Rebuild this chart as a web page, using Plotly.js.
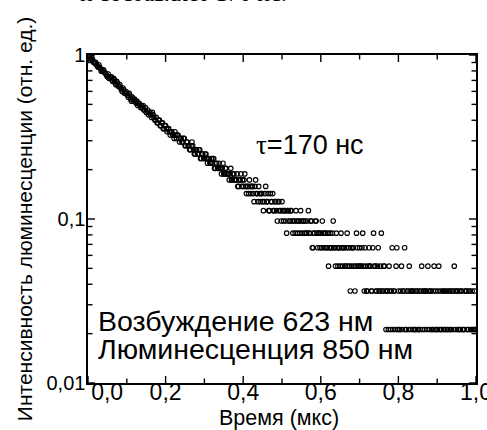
<!DOCTYPE html>
<html><head><meta charset="utf-8">
<script src="https://cdn.plot.ly/plotly-3.0.1.min.js"></script>
<style>html,body{margin:0;padding:0;background:#fff}</style>
</head><body><div id="chart" style="width:487px;height:430px"></div>
<script>
// Time axis of the decay record (мкс): first channel and channel width
const timeStart = 0;
const timeStep = 0.002;
// Normalised luminescence intensity, one value per channel
const intensity = [
.9940,.9940,.9788,.9484,.9484,.9636,.9332,.9028,.9028,.8876,
.9028,.8724,.8572,.8420,.8724,.8420,.8268,.7964,.8116,.7964,
.8116,.7812,.7812,.7660,.7508,.7356,.7660,.7204,.7204,.7356,
.7356,.7052,.6900,.7204,.7052,.6748,.6596,.6900,.6748,.6444,
.6444,.6596,.6292,.6140,.5988,.6292,.6140,.5836,.5836,.5988,
.5836,.5684,.5532,.5836,.5684,.5380,.5228,.5532,.5380,.5228,
.5380,.5228,.5076,.5228,.4924,.5076,.5076,.4924,.4772,.4924,
.4772,.4924,.4620,.4620,.4772,.4468,.4468,.4620,.4316,.4468,
.4468,.4316,.4164,.4468,.4316,.4164,.4012,.4012,.4164,.3860,
.3860,.4012,.4012,.3708,.3708,.3860,.3860,.3556,.3556,.3708,
.3708,.3556,.3404,.3556,.3556,.3404,.3252,.3404,.3404,.3252,
.3252,.3100,.3404,.3252,.3100,.3252,.3252,.3100,.2948,.3100,
.3100,.2948,.2948,.3100,.3100,.2796,.2796,.2948,.2948,.2796,
.2796,.2644,.2644,.2796,.2948,.2796,.2644,.2492,.2492,.2644,
.2644,.2492,.2492,.2644,.2644,.2340,.2340,.2492,.2492,.2340,
.2340,.2492,.2492,.2340,.2188,.2340,.2340,.2188,.2188,.2340,
.2188,.2340,.2340,.2036,.2036,.2188,.2188,.2036,.2036,.2188,
.2036,.2036,.1884,.2036,.2188,.1884,.1884,.2036,.2036,.1884,
.1884,.1884,.1732,.1884,.2036,.1732,.1732,.1884,.1884,.1732,
.1732,.1732,.1884,.1580,.1580,.1732,.1732,.1884,.1580,.1732,
.1580,.1732,.1884,.1580,.1428,.1580,.1580,.1428,.1732,.1580,
.1428,.1580,.1580,.1428,.1276,.1580,.1732,.1428,.1428,.1276,
.1580,.1428,.1276,.1428,.1428,.1276,.1124,.1276,.1428,.1580,
.1276,.1276,.1428,.1124,.1124,.1428,.1276,.1276,.1428,.1124,
.1124,.1276,.1276,.1124,.0972,.1276,.1276,.1124,.1124,.0972,
.1276,.1124,.0972,.1124,.1124,.0972,.0820,.1124,.1124,.0972,
.0972,.1124,.1124,.0972,.0820,.0972,.0972,.0820,.1124,.0972,
.0820,.0972,.0972,.0820,.1124,.0972,.0820,.0972,.0972,.0820,
.0972,.0820,.0820,.0972,.1124,.0820,.0820,.0972,.0972,.0668,
.0668,.0820,.0820,.0972,.0972,.0820,.0668,.0820,.0820,.0668,
.0820,.0668,.0972,.0820,.0668,.0820,.0820,.0668,.0668,.0820,
.0516,.0668,.0820,.0668,.0668,.0820,.0972,.0668,.0668,.0516,
.0820,.0668,.0516,.0668,.0668,.0516,.0820,.0668,.0516,.0668,
.0668,.0516,.0516,.0668,.0820,.0516,.0668,.0516,.0364,.0668,
.0516,.0668,.0668,.0516,.0364,.0516,.0820,.0668,.0516,.0516,
.0668,.0516,.0516,.0668,.0820,.0516,.0364,.0668,.0516,.0364,
.0364,.0516,.0668,.0516,.0516,.0364,.0364,.0668,.0820,.0516,
.0516,.0364,.0364,.0516,.0668,.0364,.0364,.0516,.0820,.0364,
.0364,.0516,.0516,.0364,.0212,.0364,.0364,.0212,.0516,.0364,
.0212,.0364,.0668,.0212,.0364,.0364,.0212,.0516,.0668,.0212,
.0364,.0212,.0212,.0364,.0516,.0212,.0364,.0364,.0668,.0212,
.0212,.0364,.0364,.0212,.0516,.0364,.0212,.0364,.0364,.0212,
.0364,.0212,.0212,.0364,.0364,.0212,.0212,.0364,.0212,.0364,
.0516,.0212,.0364,.0364,.0212,.0364,.0364,.0212,.0516,.0364,
.0212,.0364,.0364,.0212,.0212,.0364,.0516,.0212,.0364,.0212,
.0212,.0364,.0516,.0212,.0364,.0212,.0212,.0364,.0364,.0212,
.0212,.0364,.0364,.0212,.0212,.0364,.0364,.0212,.0212,.0364,
.0364,.0212,.0516,.0364,.0212,.0364,.0364,.0212,.0212,.0364,
.0212,.0364,.0364,.0212,.0212,.0212,.0364,.0364,.0364,.0212,
.0212,.0364,.0364,.0212,.0212,.0364,.0212,.0212,.0364,.0212,
.0212
];
// Axis ticks and labels
const xRange = [0, 1.0];
const xTickValues = [0, 0.2, 0.4, 0.6, 0.8, 1.0];
const xTickLabels = ['\u00a0\u00a0\u00a0\u00a0\u00a0\u00a00,0', '0,2', '0,4', '0,6', '0,8', '1,0'];
const xMinorTicks = [0.1, 0.3, 0.5, 0.7, 0.9];
const yLogRange = [-2, 0];
const yTickValues = [0.01, 0.1, 1];
const yTickLabels = ['0,01', '0,1', '1'];
const yMinorTicks = [0.02,0.03,0.04,0.05,0.06,0.07,0.08,0.09,0.2,0.3,0.4,0.5,0.6,0.7,0.8,0.9];
// Texts
const xTitle = 'Время (мкс)';
const yTitle = 'Интенсивность люминесценции (отн. ед.)';
const lifetimeLabel = '<span style="font-family:\'Liberation Serif\'">τ</span>=170 нс';
const excitationLabel = 'Возбуждение 623 нм';
const emissionLabel = 'Люминесценция 850 нм';
const captionFragment = 'и составляет 170 нс.';

const FONT = 'Liberation Sans';
const MAJOR_LEN = 7, MINOR_LEN = 4.5;
const tickLine = {color: '#000', width: 1.4};

// inward tick marks on all four sides of the frame, placed at the tick values
const tickShapes = [];
function xTick(v, len) {
  tickShapes.push({type: 'line', xref: 'x', yref: 'paper', ysizemode: 'pixel', yanchor: 0,
    x0: v, x1: v, y0: 0, y1: len, line: tickLine});
  tickShapes.push({type: 'line', xref: 'x', yref: 'paper', ysizemode: 'pixel', yanchor: 1,
    x0: v, x1: v, y0: 0, y1: -len, line: tickLine});
}
function yTick(v, len) {
  const frac = (Math.log10(v) - yLogRange[0]) / (yLogRange[1] - yLogRange[0]);
  tickShapes.push({type: 'line', xref: 'paper', yref: 'paper', xsizemode: 'pixel', xanchor: 0,
    x0: 0, x1: len, y0: frac, y1: frac, line: tickLine});
  tickShapes.push({type: 'line', xref: 'paper', yref: 'paper', xsizemode: 'pixel', xanchor: 1,
    x0: 0, x1: -len, y0: frac, y1: frac, line: tickLine});
}
xTickValues.forEach(v => xTick(v, MAJOR_LEN));
xMinorTicks.forEach(v => xTick(v, MINOR_LEN));
yTickValues.forEach(v => yTick(v, MAJOR_LEN));
yMinorTicks.forEach(v => yTick(v, MINOR_LEN));

const axisCommon = {
  showline: true, linecolor: '#000', linewidth: 1.6, mirror: true,
  ticks: '', showgrid: false, zeroline: false, tickmode: 'array', automargin: false,
  ticklabeloverflow: 'allow'
};

const dataTrace = {
  type: 'scatter', mode: 'markers',
  x0: timeStart, dx: timeStep, y: intensity,
  marker: {symbol: 'circle-open', size: 4.5, color: '#000', line: {width: 1.15, color: '#000'}},
  hoverinfo: 'skip', showlegend: false
};

const layout = {
  width: 487, height: 430,
  margin: {l: 88, r: 11, t: 55, b: 47},
  paper_bgcolor: '#fff', plot_bgcolor: '#fff',
  separators: ', ',
  font: {family: FONT, color: '#000'},
  xaxis: Object.assign({}, axisCommon, {
    range: xRange, tickvals: xTickValues, ticktext: xTickLabels,
    tickfont: {family: FONT, size: 23, color: '#000'},
    ticklabelstandoff: -12
  }),
  yaxis: Object.assign({}, axisCommon, {
    type: 'log', range: yLogRange, tickvals: yTickValues, ticktext: yTickLabels,
    tickfont: {family: FONT, size: 20, color: '#000'},
    ticklabelstandoff: -3,
    title: {text: yTitle, font: {family: FONT, size: 21, color: '#000'}, standoff: 8}
  }),
  shapes: tickShapes,
  annotations: [
    {xref: 'paper', yref: 'paper', x: 0.491, y: -0.108, xanchor: 'center', yanchor: 'middle',
     text: xTitle, showarrow: false, font: {family: FONT, size: 21.5, color: '#000'}},
    {xref: 'paper', yref: 'paper', x: 0.572, y: 0.726, xanchor: 'center', yanchor: 'middle',
     text: lifetimeLabel, showarrow: false, font: {family: FONT, size: 27, color: '#000'}},
    {xref: 'paper', yref: 'paper', x: 0.02, y: 0.189, xanchor: 'left', yanchor: 'middle',
     text: excitationLabel, showarrow: false, font: {family: FONT, size: 28.5, color: '#000'}},
    {xref: 'paper', yref: 'paper', x: 0.02, y: 0.104, xanchor: 'left', yanchor: 'middle',
     text: emissionLabel, showarrow: false, font: {family: FONT, size: 28.5, color: '#000'}},
    {xref: 'paper', yref: 'paper', x: -0.027, y: 1.143, xanchor: 'left', yanchor: 'bottom',
     text: captionFragment, showarrow: false, font: {family: 'Liberation Serif', size: 24, color: '#000'}}
  ]
};

Plotly.newPlot('chart', [dataTrace], layout, {staticPlot: true, displayModeBar: false});
</script>
</body></html>
